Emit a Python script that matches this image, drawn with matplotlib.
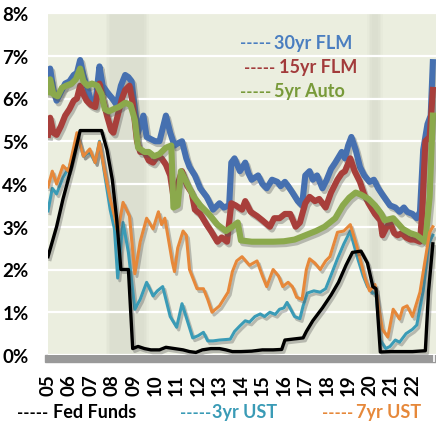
import matplotlib
matplotlib.use('Agg')
import matplotlib.pyplot as plt
import matplotlib.patheffects as pe
from matplotlib.patches import Rectangle

plt.rcParams['font.family'] = ['Lato', 'DejaVu Sans']
plt.rcParams['font.weight'] = 'bold'

# ---- data (year, percent) ----
blue_x = [2005.0, 2005.1, 2005.25, 2005.4, 2005.6, 2005.8, 2006.0, 2006.2, 2006.35, 2006.5,
          2006.65, 2006.8, 2007.0, 2007.2, 2007.4, 2007.55, 2007.75, 2008.0, 2008.2, 2008.4,
          2008.6, 2008.75, 2008.9, 2009.05, 2009.2, 2009.45, 2009.6, 2009.8, 2010.0, 2010.2,
          2010.35, 2010.5, 2010.7, 2010.9, 2011.05, 2011.25, 2011.45, 2011.6, 2011.85, 2012.1,
          2012.4, 2012.7, 2013.0, 2013.2, 2013.45, 2013.55, 2013.7, 2013.95, 2014.2, 2014.35,
          2014.5, 2014.8, 2015.0, 2015.2, 2015.45, 2015.7, 2015.85, 2016.05, 2016.2, 2016.4,
          2016.65, 2016.85, 2017.0, 2017.2, 2017.35, 2017.55, 2017.8, 2018.0, 2018.2, 2018.4,
          2018.7, 2018.85, 2019.0, 2019.15, 2019.35, 2019.55, 2019.75, 2020.0, 2020.2, 2020.4,
          2020.6, 2020.95, 2021.2, 2021.4, 2021.6, 2021.75, 2022.0, 2022.2, 2022.35, 2022.5,
          2022.7, 2022.85, 2022.95]
blue_y = [6.6, 6.7, 6.2, 5.95, 6.15, 6.35, 6.4, 6.55, 6.6, 6.9,
          6.55, 6.3, 5.95, 5.85, 6.75, 6.3, 6.15, 6.0, 5.85, 6.3,
          6.55, 6.5, 6.4, 5.75, 5.2, 5.6, 5.1, 5.05, 5.0, 5.0,
          5.3, 5.6, 5.2, 4.9, 4.95, 5.0, 4.6, 4.4, 4.2, 3.9,
          3.7, 3.4, 3.55, 3.45, 3.5, 4.5, 4.6, 4.3, 4.5, 4.25,
          4.1, 4.2, 4.0, 3.9, 4.1, 4.05, 3.95, 4.05, 3.95, 3.8,
          3.6, 3.5, 4.2, 4.3, 4.1, 4.2, 3.9, 4.1, 4.35, 4.5,
          4.75, 4.6, 4.9, 5.1, 4.8, 4.4, 4.2, 4.05, 4.1, 3.9,
          3.75, 3.5, 3.45, 3.35, 3.45, 3.35, 3.3, 3.2, 3.35, 4.8,
          5.4, 5.6, 6.85]

red_x = [2005.0, 2005.1, 2005.25, 2005.4, 2005.6, 2005.8, 2006.0, 2006.2, 2006.35, 2006.5,
         2006.65, 2006.8, 2007.0, 2007.2, 2007.4, 2007.55, 2007.75, 2007.95, 2008.05, 2008.25,
         2008.45, 2008.6, 2008.8, 2008.95, 2009.15, 2009.3, 2009.5, 2009.7, 2009.9, 2010.1,
         2010.3, 2010.5, 2010.7, 2010.85, 2011.05, 2011.25, 2011.5, 2011.7, 2011.85, 2012.1,
         2012.4, 2012.6, 2012.9, 2013.1, 2013.35, 2013.55, 2013.75, 2014.05, 2014.2, 2014.45,
         2014.75, 2015.0, 2015.35, 2015.55, 2015.8, 2016.05, 2016.3, 2016.55, 2016.75, 2017.0,
         2017.2, 2017.45, 2017.65, 2017.95, 2018.2, 2018.5, 2018.7, 2018.85, 2019.1, 2019.3,
         2019.55, 2019.75, 2019.95, 2020.25, 2020.5, 2020.6, 2020.8, 2020.95, 2021.15, 2021.3,
         2021.5, 2021.7, 2021.9, 2022.1, 2022.35, 2022.45, 2022.6, 2022.8, 2022.95]
red_y = [5.15, 5.55, 5.2, 5.15, 5.35, 5.6, 5.75, 5.95, 6.0, 6.3,
         6.1, 5.95, 5.85, 5.8, 6.35, 6.0, 5.6, 5.25, 5.2, 5.6,
         6.0, 6.2, 6.3, 5.9, 5.0, 4.75, 4.75, 4.55, 4.5, 4.65,
         4.6, 4.45, 4.2, 3.7, 4.0, 4.3, 3.95, 3.8, 3.4, 3.3,
         3.05, 2.9, 2.65, 2.75, 2.65, 3.55, 3.5, 3.4, 3.6, 3.35,
         3.25, 3.15, 3.0, 3.2, 3.2, 3.3, 3.3, 3.0, 3.1, 3.55,
         3.7, 3.6, 3.65, 3.45, 3.8, 4.1, 4.25, 4.3, 4.6, 4.3,
         4.05, 3.75, 3.55, 3.3, 3.15, 2.8, 3.0, 3.1, 2.85, 2.8,
         2.85, 2.75, 2.7, 2.7, 2.65, 3.3, 5.0, 5.1, 6.2]

green_x = [2005.0, 2005.1, 2005.25, 2005.45, 2005.65, 2005.85, 2006.1, 2006.3, 2006.5, 2006.65,
           2006.85, 2007.05, 2007.3, 2007.5, 2007.65, 2007.85, 2008.05, 2008.3, 2008.6, 2008.85,
           2009.05, 2009.2, 2009.5, 2009.7, 2009.95, 2010.2, 2010.5, 2010.75, 2010.85, 2011.05,
           2011.2, 2011.5, 2011.8, 2012.1, 2012.5, 2012.9, 2013.3, 2013.6, 2013.85, 2014.0,
           2014.5, 2015.0, 2015.5, 2016.0, 2016.5, 2017.0, 2017.5, 2017.9, 2018.4, 2018.75,
           2019.05, 2019.35, 2019.6, 2019.95, 2020.25, 2020.55, 2020.7, 2021.1, 2021.55, 2021.9,
           2022.2, 2022.6, 2022.8, 2022.95]
green_y = [6.15, 6.45, 6.1, 6.05, 6.25, 6.3, 6.35, 6.45, 6.7, 6.4,
           6.3, 6.35, 6.3, 6.1, 5.75, 5.7, 5.75, 5.8, 5.9, 5.85,
           5.5, 4.85, 4.75, 4.75, 4.65, 4.7, 4.85, 4.9, 3.45, 3.5,
           4.3, 4.0, 3.7, 3.5, 3.3, 3.05, 2.9, 3.0, 3.1, 2.68,
           2.65, 2.65, 2.65, 2.66, 2.7, 2.8, 2.9, 3.0, 3.2, 3.5,
           3.68, 3.8, 3.75, 3.65, 3.5, 3.3, 3.15, 3.2, 2.95, 2.85,
           2.8, 2.65, 3.7, 5.6]

fed_x = [2005.0, 2005.4, 2005.7, 2006.1, 2006.5, 2007.5, 2007.75, 2008.0, 2008.2, 2008.4,
         2008.75, 2008.95, 2009.2, 2009.5, 2009.8, 2010.2, 2010.5, 2010.9, 2011.3, 2011.6,
         2011.9, 2012.2, 2012.6, 2013.0, 2013.3, 2013.6, 2014.0, 2014.5, 2015.0, 2015.5,
         2015.9, 2016.05, 2016.9, 2017.05, 2017.35, 2017.8, 2018.2, 2018.55, 2018.9, 2019.2,
         2019.6, 2019.9, 2020.15, 2020.3, 2020.5, 2021.0, 2021.5, 2022.0, 2022.6, 2022.75,
         2022.95]
fed_y = [2.3, 3.0, 3.65, 4.4, 5.25, 5.25, 4.8, 4.1, 3.2, 2.0,
         2.0, 0.15, 0.2, 0.15, 0.12, 0.12, 0.18, 0.15, 0.12, 0.08,
         0.06, 0.12, 0.15, 0.15, 0.12, 0.08, 0.08, 0.09, 0.12, 0.12,
         0.13, 0.35, 0.4, 0.55, 0.8, 1.1, 1.4, 1.7, 2.1, 2.4,
         2.43, 2.15, 1.6, 1.55, 0.07, 0.08, 0.08, 0.08, 0.1, 1.5,
         2.6]

ust3_x = [2005.0, 2005.2, 2005.4, 2005.7, 2006.0, 2006.4, 2006.65, 2006.95, 2007.2, 2007.4,
          2007.65, 2007.9, 2008.1, 2008.25, 2008.5, 2008.75, 2009.05, 2009.3, 2009.6, 2009.9,
          2010.1, 2010.35, 2010.55, 2010.7, 2011.0, 2011.25, 2011.5, 2011.75, 2012.0, 2012.25,
          2012.45, 2012.7, 2013.0, 2013.5, 2013.7, 2013.95, 2014.2, 2014.4, 2014.65, 2014.9,
          2015.1, 2015.35, 2015.6, 2015.8, 2016.0, 2016.15, 2016.5, 2016.75, 2016.9, 2017.1,
          2017.4, 2017.7, 2017.95, 2018.15, 2018.5, 2018.8, 2019.1, 2019.2, 2019.45, 2019.7,
          2019.9, 2020.15, 2020.3, 2020.5, 2020.75, 2020.95, 2021.2, 2021.4, 2021.7, 2022.0,
          2022.2, 2022.5, 2022.75, 2022.95]
ust3_y = [3.37, 3.9, 3.77, 4.15, 4.4, 5.1, 4.65, 4.75, 4.5, 5.0,
          4.2, 3.4, 2.95, 1.8, 3.1, 2.4, 1.07, 1.3, 1.7, 1.38,
          1.5, 1.6, 1.2, 0.9, 0.65, 1.2, 0.8, 0.4, 0.45, 0.53,
          0.33, 0.33, 0.35, 0.37, 0.55, 0.68, 0.8, 0.77, 0.9, 0.96,
          0.9, 1.0, 0.95, 1.07, 1.1, 1.23, 0.9, 0.85, 1.15, 1.45,
          1.5, 1.47, 1.55, 1.8, 2.25, 2.6, 2.9, 2.7, 2.25, 1.85,
          1.6, 1.45, 1.45, 0.35, 0.15, 0.2, 0.35, 0.3, 0.5, 0.6,
          0.7, 1.5, 2.6, 2.8]

ust7_x = [2005.0, 2005.2, 2005.4, 2005.7, 2005.95, 2006.35, 2006.65, 2006.95, 2007.2, 2007.4,
          2007.65, 2007.9, 2008.1, 2008.25, 2008.5, 2008.8, 2009.05, 2009.3, 2009.6, 2009.9,
          2010.15, 2010.3, 2010.45, 2010.8, 2010.9, 2011.05, 2011.3, 2011.45, 2011.6, 2011.95,
          2012.25, 2012.45, 2012.65, 2013.0, 2013.4, 2013.6, 2013.8, 2014.05, 2014.4, 2014.75,
          2015.0, 2015.2, 2015.5, 2015.75, 2015.95, 2016.2, 2016.4, 2016.6, 2016.85, 2017.05,
          2017.2, 2017.45, 2017.7, 2017.95, 2018.15, 2018.5, 2018.8, 2019.1, 2019.4, 2019.8,
          2020.0, 2020.25, 2020.5, 2020.6, 2020.85, 2021.1, 2021.4, 2021.55, 2021.75, 2022.0,
          2022.35, 2022.6, 2022.8, 2022.95]
ust7_y = [3.93, 4.3, 4.0, 4.43, 4.3, 5.2, 4.65, 4.82, 4.5, 4.98,
          4.27, 3.65, 3.25, 2.87, 3.57, 3.25, 1.9, 2.65, 3.2, 2.95,
          3.35, 3.05, 3.2, 2.17, 1.95, 2.5, 2.9, 2.8, 2.0, 1.55,
          1.55, 1.3, 1.0, 1.15, 1.47, 1.95, 2.2, 2.3, 2.1, 2.2,
          1.85, 1.6, 2.0, 1.85, 1.6, 1.7, 1.6, 1.35, 1.3, 2.0,
          2.25, 2.15, 2.0, 2.2, 2.3, 2.87, 2.9, 3.05, 2.55, 1.78,
          1.5, 1.65, 0.9, 0.6, 0.42, 1.07, 0.84, 1.1, 1.15, 0.9,
          1.47, 2.25, 2.87, 3.0]

recessions = [(2007.9, 2009.5), (2020.1, 2020.4)]
years = list(range(2005, 2023))
year_labels = ['%02d' % (y % 100) for y in years]

# ---- figure ----
W, H = 436, 439
fig = plt.figure(figsize=(W / 100, H / 100), dpi=100)
ax = fig.add_axes([48 / W, 1 - 356 / H, (436 - 48) / W, (356 - 14) / H])
ax.set_facecolor('#EBEEDF')
ax.set_xlim(2005, 2005 + (436 - 48) / 21.44)
ax.set_ylim(0, 8)

# recession bands, soft edges
for a, b in recessions:
    for k in range(4):
        ax.axvspan(a - 0.07 * k, b + 0.07 * k, color='#9a9e90', alpha=0.045, lw=0, zorder=0.3)

ax.set_yticks(range(9))
ax.set_yticklabels(['%d%%' % v for v in range(9)], fontsize=13.5)
ax.yaxis.grid(True, color='white', lw=1.6, zorder=0.5)
ax.set_axisbelow(True)

ax.set_xticks(years)
ax.set_xticklabels(year_labels, rotation=90, fontsize=13.5)
ax.set_xticks([2005, 2011, 2017, 2023], minor=True)
ax.tick_params(axis='x', which='major', length=0, pad=13)
ax.tick_params(axis='x', which='minor', length=5, width=1.2, color='white', direction='out')
ax.tick_params(axis='y', length=0, pad=14)
for s in ax.spines.values():
    s.set_visible(False)

# grey axis bar under the plot
fig.add_artist(Rectangle((45 / W, 1 - 363 / H), (436 - 45) / W, 7 / H,
                         transform=fig.transFigure, color='#999999', zorder=-1))

shadow = [pe.SimpleLineShadow(offset=(1.5, -2), shadow_color='#555555', alpha=0.35), pe.Normal()]
series = [
    (blue_x, blue_y, '#4670B0', 4.4),
    (red_x, red_y, '#A83F3B', 4.4),
    (green_x, green_y, '#8BA94C', 4.4),
    (ust3_x, ust3_y, '#3A9BB6', 2.2),
    (ust7_x, ust7_y, '#E6883A', 2.2),
    (fed_x, fed_y, '#000000', 2.4),
]
for i, (x, y, c, lw) in enumerate(series):
    ax.plot(x, y, color=c, lw=lw, solid_joinstyle='round', zorder=2 + i, path_effects=shadow)

# ---- legend texts ----
def label(px, py, col, txt, tx):
    fig.text(px / W, 1 - py / H, '-----', color=col, fontsize=12, va='center', ha='left')
    fig.text(tx / W, 1 - py / H, txt, color=col, fontsize=13, va='center', ha='left')

label(240, 43, '#4A7EC0', '30yr FLM', 274)
label(244, 68, '#A23B3B', '15yr FLM', 279)
label(240, 92, '#789A3A', '5yr Auto', 274)
label(17, 413, '#000000', 'Fed Funds', 53)
label(180, 413, '#3A9BB6', '3yr UST', 212)
label(322, 413, '#E6883A', '7yr UST', 356)

fig.savefig('out.png', dpi=100)
